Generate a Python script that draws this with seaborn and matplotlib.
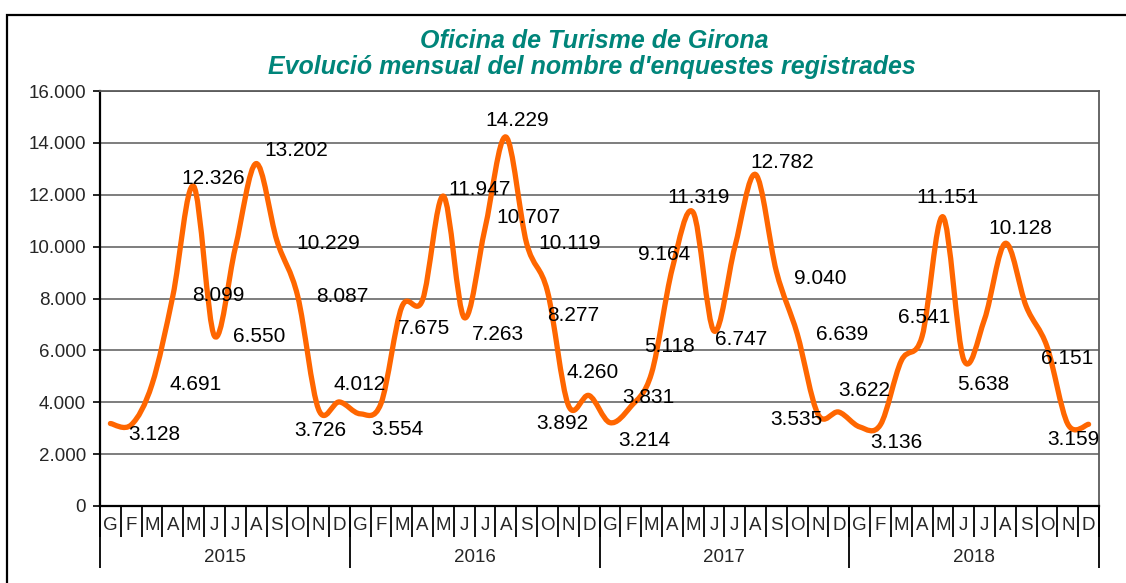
import numpy as np
import matplotlib
matplotlib.use("Agg")
import matplotlib.pyplot as plt
from matplotlib.path import Path
from matplotlib.patches import PathPatch, Rectangle
import seaborn as sns

# --- DATA ---
months = ['G', 'F', 'M', 'A', 'M', 'J', 'J', 'A', 'S', 'O', 'N', 'D']
years = ['2015', '2016', '2017', '2018']
enq_2015 = [3180, 3128, 4691, 8099, 12326, 6550, 9950, 13202, 10229, 8087, 3726, 4012]
enq_2016 = [3554, 3950, 7675, 7950, 11947, 7263, 10707, 14229, 10119, 8277, 3892, 4260]
enq_2017 = [3214, 3831, 5118, 9164, 11319, 6747, 9980, 12782, 9040, 6639, 3535, 3622]
enq_2018 = [3050, 3136, 5600, 6541, 11151, 5638, 7200, 10128, 7700, 6151, 3159, 3150]

# label offsets in pixels (dx, dy down), None = no label shown
lab_2015 = [None, (23, 10), (44, 0), (45, 0), (20, -8), (45, 0), None, (40, -13), (51, 3), (45, 0), (2, 21), (20, -17)]
lab_2016 = [(37, 16), None, (22, 22), None, (36, -7), (34, 17), (43, -11), (11, -16), (43, 0), (26, 24), (-6, 18), (4, -23)]
lab_2017 = [(34, 18), (18, -9), (18, -27), (-8, -14), (5, -15), (27, 9), None, (27, -12), (44, 7), (45, 1), (-22, 5), (25, -22)]
lab_2018 = [None, (16, 18), None, (2, -19), (5, -19), (20, 25), None, (15, -15), None, (20, 12), (6, 15), None]

values = np.array(enq_2015 + enq_2016 + enq_2017 + enq_2018, dtype=float)
offsets = lab_2015 + lab_2016 + lab_2017 + lab_2018
x = np.arange(len(values), dtype=float)

sns.set_style("white")
plt.rcParams['font.family'] = ['Liberation Sans', 'DejaVu Sans']

W, H = 1126, 583
fig = plt.figure(figsize=(W / 100, H / 100), dpi=100)
ax = fig.add_axes([100 / W, 77 / H, 999 / W, 415 / H])

# outer chart frame
fig.add_artist(Rectangle((7 / W, -0.2), 1.2, 1.2 - 15 / H, transform=fig.transFigure,
                         fill=False, ec='black', lw=1.6, clip_on=False))

ax.set_xlim(-0.5, len(values) - 0.5)
ax.set_ylim(0, 16000)
ax.set_yticks(np.arange(0, 16001, 2000))
ax.set_yticklabels([f"{int(v):,}".replace(",", ".") for v in np.arange(0, 16001, 2000)], fontsize=13.5)
ax.tick_params(axis='y', length=5, width=1.2, color='black', pad=5, left=True)
ax.set_xticks([])
ax.grid(axis='y', color='#5a5a5a', lw=1.1)
ax.set_axisbelow(True)
for side in ['left', 'bottom']:
    ax.spines[side].set_color('black')
    ax.spines[side].set_linewidth(1.6)
for side in ['top', 'right']:
    ax.spines[side].set_color('#5a5a5a')
    ax.spines[side].set_linewidth(1.3)

# smooth line (Catmull-Rom style bezier through the monthly values)
pts = np.column_stack([x, values])
verts = [pts[0]]
codes = [Path.MOVETO]
for i in range(len(pts) - 1):
    p0 = pts[max(i - 1, 0)]
    p1 = pts[i]
    p2 = pts[i + 1]
    p3 = pts[min(i + 2, len(pts) - 1)]
    c1 = p1 + (p2 - p0) / 6.0
    c2 = p2 - (p3 - p1) / 6.0
    verts += [c1, c2, p2]
    codes += [Path.CURVE4] * 3
ax.add_patch(PathPatch(Path(verts, codes), fill=False, ec='#FF6600', lw=3.8,
                       capstyle='round', joinstyle='round', zorder=3))

# data labels
for xi, v, off in zip(x, values, offsets):
    if off is None:
        continue
    ax.annotate(f"{int(v):,}".replace(",", "."), (xi, v), xytext=(off[0], -off[1]),
                textcoords='offset pixels', ha='center', va='center', fontsize=15,
                color='black', zorder=4)

# two-level category axis
trans = ax.get_xaxis_transform()
month_labels = months * len(years)
for i, m in enumerate(month_labels):
    ax.text(i, -20 / 415, m, transform=trans, ha='center', va='center', fontsize=13.5)
ax.vlines(np.arange(len(values) + 1) - 0.5, -31 / 415, 0, transform=trans, color='black',
          lw=1.3, clip_on=False)
ax.vlines(np.arange(0, len(values) + 1, 12) - 0.5, -62 / 415, 0, transform=trans, color='black',
          lw=1.3, clip_on=False)
for k, yr in enumerate(years):
    ax.text(k * 12 + 5.5, -51 / 415, yr, transform=trans, ha='center', va='center', fontsize=13.5)

fig.text(0.528, 1 - 41 / H, "Oficina de Turisme de Girona", ha='center', va='center',
         fontsize=18, fontweight='bold', style='italic', color='#00857A')
fig.text(0.526, 1 - 67 / H, "Evolució mensual del nombre d'enquestes registrades", ha='center',
         va='center', fontsize=18, fontweight='bold', style='italic', color='#00857A')

fig.savefig("out.png", dpi=100)
